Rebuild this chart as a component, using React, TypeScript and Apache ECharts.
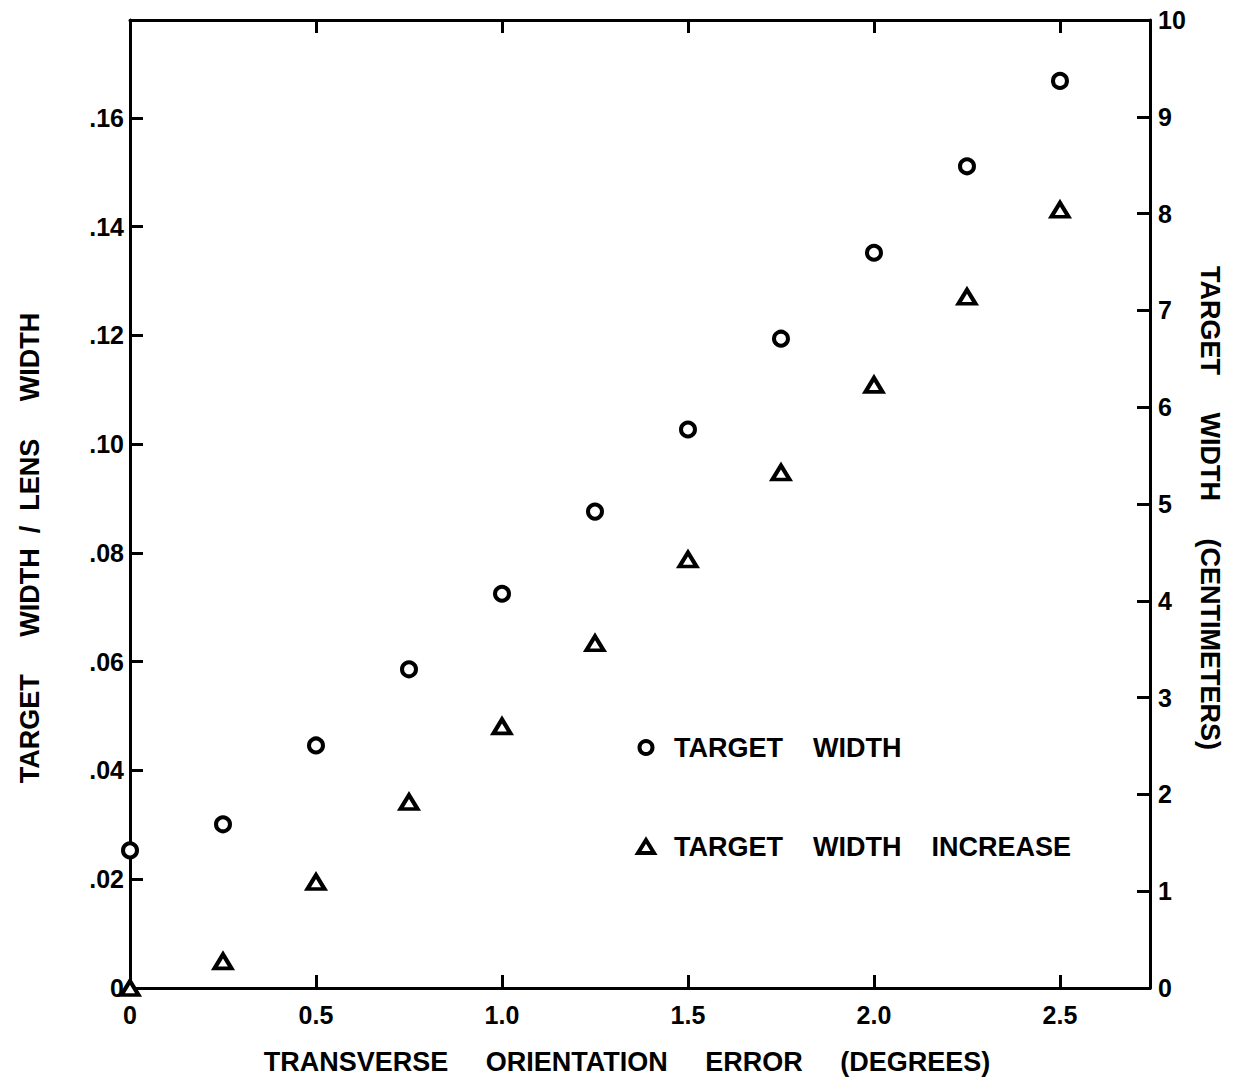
import React, { useEffect, useRef } from "react";
import * as echarts from "echarts";

// Transverse orientation error (degrees)
const orientationError = [0, 0.25, 0.5, 0.75, 1.0, 1.25, 1.5, 1.75, 2.0, 2.25, 2.5];
// Target width / lens width (circles)
const targetWidthRatio = [0.0253, 0.0301, 0.0446, 0.0586, 0.0725, 0.0876, 0.1027, 0.1194, 0.1352, 0.1511, 0.1668];
// Target width increase / lens width (triangles)
const targetWidthIncreaseRatio = [0.0, 0.0049, 0.0195, 0.0342, 0.0481, 0.0634, 0.0788, 0.0948, 0.1109, 0.1271, 0.1431];

const seriesNames = ["TARGET WIDTH", "TARGET WIDTH INCREASE"];
const xAxisTitle = "TRANSVERSE ORIENTATION ERROR (DEGREES)";
const leftAxisTitle = "TARGET WIDTH / LENS WIDTH";
const rightAxisTitle = "TARGET WIDTH (CENTIMETERS)";

const FONT = "'Liberation Sans', Arial, sans-serif";
const INK = "#000";
const NB = "\u00a0";

const spaced = (s: string, n: number) => s.split(" ").join(NB.repeat(n));
const leftTitleText = leftAxisTitle
  .split(" / ")
  .map((part) => spaced(part, 5))
  .join(NB + NB + "/" + NB + NB);

const markerStyle = { color: "#fff", borderColor: INK, borderWidth: 4, opacity: 1 };

export default function App() {
  const ref = useRef<HTMLDivElement>(null);

  useEffect(() => {
    if (!ref.current) return;
    const chart = echarts.init(ref.current, undefined, { renderer: "svg" });

    const axisLine = { show: true, onZero: false, lineStyle: { color: INK, width: 3 } };
    const axisTick = { show: true, inside: true, length: 13, lineStyle: { color: INK, width: 3 } };
    const labelBase = { color: INK, fontSize: 25, fontWeight: "bold", fontFamily: FONT, showMaxLabel: false };

    chart.setOption({
      animation: false,
      backgroundColor: "#fff",
      grid: { left: 130, right: 83, top: 20, bottom: 93 },
      xAxis: [
        {
          type: "value",
          position: "bottom",
          min: 0,
          max: 2.742,
          interval: 0.5,
          axisLine,
          axisTick,
          splitLine: { show: false },
          axisLabel: {
            ...labelBase,
            margin: 14,
            formatter: (v: number) => (v === 0 ? "0" : v.toFixed(1)),
          },
        },
        {
          type: "value",
          position: "top",
          min: 0,
          max: 2.742,
          interval: 0.5,
          axisLine,
          axisTick,
          splitLine: { show: false },
          axisLabel: { show: false },
        },
      ],
      yAxis: [
        {
          type: "value",
          position: "left",
          min: 0,
          max: 0.178,
          interval: 0.02,
          axisLine,
          axisTick,
          splitLine: { show: false },
          axisLabel: {
            ...labelBase,
            margin: 6,
            formatter: (v: number) => (v === 0 ? "0" : v.toFixed(2).replace(/^0/, "")),
          },
        },
        {
          type: "value",
          position: "right",
          min: 0,
          max: 10,
          interval: 1,
          axisLine,
          axisTick,
          splitLine: { show: false },
          axisLabel: {
            ...labelBase,
            showMaxLabel: true,
            margin: 8,
            formatter: (v: number) => String(Math.round(v)),
          },
        },
      ],
      legend: {
        orient: "vertical",
        left: 631,
        top: 729,
        itemGap: 72,
        itemWidth: 16,
        itemHeight: 13,
        selectedMode: false,
        textStyle: { color: INK, fontSize: 27, fontWeight: "bold", fontFamily: FONT },
        formatter: (n: string) => NB + NB + spaced(n, 4),
        data: [
          { name: seriesNames[0], icon: "circle", itemStyle: markerStyle },
          { name: seriesNames[1], icon: "triangle", itemStyle: markerStyle },
        ],
      },
      series: [
        {
          name: seriesNames[0],
          type: "scatter",
          xAxisIndex: 0,
          yAxisIndex: 0,
          symbol: "circle",
          symbolSize: 14,
          clip: false,
          itemStyle: markerStyle,
          data: orientationError.map((x, i) => [x, targetWidthRatio[i]]),
        },
        {
          name: seriesNames[1],
          type: "scatter",
          xAxisIndex: 0,
          yAxisIndex: 0,
          symbol: "triangle",
          symbolSize: [17, 14],
          clip: false,
          itemStyle: markerStyle,
          data: orientationError.map((x, i) => [x, targetWidthIncreaseRatio[i]]),
        },
      ],
      graphic: [
        {
          type: "text",
          x: 627,
          y: 1062,
          style: {
            text: spaced(xAxisTitle, 5),
            fill: INK,
            font: `bold 27px ${FONT}`,
            align: "center",
            verticalAlign: "middle",
          },
        },
        {
          type: "text",
          x: 30,
          y: 548,
          rotation: Math.PI / 2,
          style: {
            text: leftTitleText,
            fill: INK,
            font: `bold 27px ${FONT}`,
            align: "center",
            verticalAlign: "middle",
          },
        },
        {
          type: "text",
          x: 1210,
          y: 508,
          rotation: -Math.PI / 2,
          style: {
            text: spaced(rightAxisTitle, 5),
            fill: INK,
            font: `bold 27px ${FONT}`,
            align: "center",
            verticalAlign: "middle",
          },
        },
      ],
    });

    return () => chart.dispose();
  }, []);

  return (
    <div
      ref={ref}
      style={{ position: "absolute", left: 0, top: 0, width: 1233, height: 1081 }}
    />
  );
}
